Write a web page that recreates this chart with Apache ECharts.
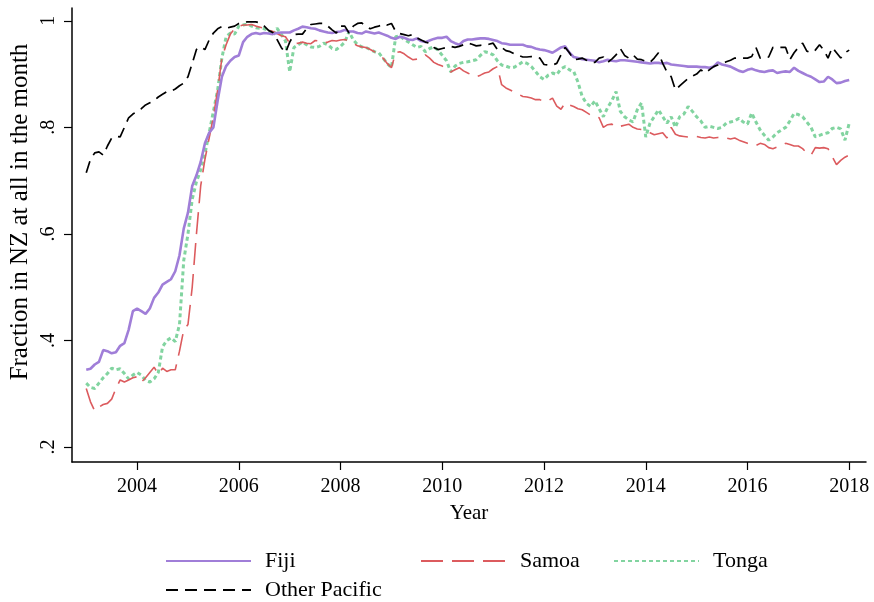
<!DOCTYPE html>
<html>
<head>
<meta charset="utf-8">
<script src="https://cdn.jsdelivr.net/npm/echarts@6/dist/echarts.min.js"></script>
<style>
  html, body { margin: 0; padding: 0; background: #fff; }
  #chart { width: 874px; height: 602px; }
</style>
</head>
<body>
<div id="chart"></div>
<script>
// monthly series, Jan 2003 .. Jan 2018
var startYear = 2003;
var xTicks = [2004, 2006, 2008, 2010, 2012, 2014, 2016, 2018];
var yTicks = [0.2, 0.4, 0.6, 0.8, 1];

var fiji = [
  .345, .347, .355, .36, .382, .38, .376, .378, .39, .395, .42, .455,
  .46, .455, .45, .46, .48, .49, .505, .51, .515, .53, .56, .61,
  .64, .69, .71, .735, .77, .79, .80, .85, .895, .915, .925, .932,
  .935, .96, .97, .975, .977, .975, .977, .976, .975, .977, .978, .978,
  .978, .982, .985, .989, .988, .986, .985, .982, .98, .978, .977, .979,
  .98, .983, .98, .98, .977, .976, .98, .978, .976, .978, .975, .972,
  .968, .966, .97, .968, .965, .964, .967, .962, .96, .963, .966, .968,
  .968, .97, .962, .958, .955, .962, .965, .965, .966, .967, .967, .966,
  .964, .962, .958, .957, .955, .955, .955, .955, .952, .951, .948, .946,
  .945, .943, .94, .945, .95, .952, .94, .932, .93, .928, .927, .926,
  .925, .922, .924, .927, .925, .924, .926, .926, .925, .924, .923, .922,
  .921, .92, .921, .921, .92, .921, .918, .917, .916, .915, .914, .914,
  .914, .913, .913, .912, .914, .922, .918, .916, .914, .91, .906, .904,
  .908, .91, .907, .905, .904, .906, .907, .902, .904, .905, .904, .912,
  .906, .902, .898, .895, .89, .885, .886, .895, .89, .883, .884, .887,
  .889
];

var samoa = [
  .31, .285, .268, .275, .28, .282, .29, .31, .326, .322, .326, .33,
  .332, .322, .33, .34, .35, .337, .348, .342, .345, .345, .38, .42,
  .43, .5, .6, .69, .74, .78, .82, .87, .93, .955, .975, .985,
  .99, .992, .992, .993, .99, .988, .986, .983, .98, .976, .972, .97,
  .958, .957, .958, .96, .958, .957, .963, .962, .958, .96, .963, .962,
  .964, .965, .962, .958, .953, .951, .95, .946, .942, .938, .93, .92,
  .912, .94, .942, .938, .932, .927, .928, .93, .936, .93, .922, .918,
  .915, .908, .904, .908, .912, .906, .902, .898, .895, .898, .902, .904,
  .91, .914, .88, .874, .87, .866, .862, .858, .857, .855, .852, .852,
  .848, .85, .855, .84, .834, .846, .842, .839, .835, .833, .828, .823,
  .822, .818, .80, .805, .806, .80, .802, .804, .806, .80, .797, .796,
  .793, .79, .786, .788, .79, .78, .80, .787, .784, .783, .782, .783,
  .783, .781, .78, .782, .78, .781, .782, .78, .778, .78, .776, .773,
  .77, .767, .766, .77, .768, .762, .76, .763, .766, .77, .768, .765,
  .765, .76, .752, .748, .762, .761, .762, .76, .745, .73, .738, .744,
  .748
];

var tonga = [
  .32, .312, .31, .32, .33, .338, .348, .345, .347, .338, .328, .335,
  .34, .335, .325, .322, .328, .34, .388, .40, .405, .398, .43, .55,
  .60, .665, .698, .72, .75, .79, .83, .87, .93, .97, .977, .975,
  .99, .992, .994, .99, .987, .986, .985, .982, .972, .986, .975, .962,
  .904, .95, .955, .96, .955, .951, .95, .952, .958, .955, .948, .946,
  .952, .96, .98, .964, .955, .951, .95, .946, .942, .94, .93, .92,
  .912, .97, .972, .965, .96, .955, .95, .952, .942, .948, .951, .945,
  .935, .925, .904, .915, .92, .922, .923, .925, .927, .935, .942, .94,
  .936, .925, .917, .915, .912, .913, .918, .923, .92, .914, .905, .895,
  .89, .898, .902, .899, .91, .914, .908, .905, .885, .858, .845, .839,
  .85, .835, .82, .837, .85, .867, .83, .82, .814, .81, .833, .846,
  .782, .808, .82, .833, .82, .808, .82, .80, .82, .825, .839, .83,
  .82, .812, .80, .802, .80, .798, .80, .808, .81, .812, .817, .81,
  .806, .827, .81, .795, .785, .776, .782, .79, .795, .80, .812, .826,
  .824, .82, .81, .80, .782, .785, .788, .79, .798, .80, .797, .776,
  .808
];

var otherPacific = [
  .715, .74, .752, .754, .748, .765, .78, .783, .782, .80, .818, .825,
  .83, .835, .842, .846, .85, .857, .862, .867, .868, .872, .878, .883,
  .895, .92, .946, .951, .946, .964, .977, .985, .989, .986, .988, .99,
  .995, .997, .998, .998, .998, .996, .99, .982, .978, .965, .95, .94,
  .96, .974, .975, .975, .985, .993, .994, .995, .995, .99, .983, .977,
  .99, .99, .977, .99, .995, .996, .99, .985, .988, .99, .994, .992,
  .995, .98, .976, .974, .972, .974, .968, .964, .96, .958, .95, .946,
  .948, .95, .952, .95, .952, .955, .958, .956, .953, .954, .955, .956,
  .958, .946, .95, .944, .942, .938, .935, .932, .932, .933, .932, .93,
  .918, .917, .917, .92, .936, .95, .94, .927, .928, .93, .926, .922,
  .922, .93, .932, .922, .928, .936, .948, .935, .93, .936, .928, .927,
  .924, .922, .93, .94, .92, .904, .895, .87, .878, .885, .892, .896,
  .90, .908, .902, .908, .914, .917, .92, .923, .926, .93, .93, .93,
  .93, .933, .95, .93, .93, .932, .95, .95, .95, .95, .927, .94,
  .95, .958, .943, .94, .945, .955, .945, .93, .95, .94, .93, .94,
  .945
];

function toPairs(vals) {
  return vals.map(function (v, i) { return [startYear + i / 12, v]; });
}

var serif = 'Liberation Serif';
var myChart = echarts.init(document.getElementById('chart'));
myChart.setOption({
  backgroundColor: '#fff',
  animation: false,
  grid: {left: 72, right: 8, top: 8, bottom: 140},
  xAxis: {
    type: 'value',
    min: 2002.72,
    max: 2018.33,
    name: 'Year',
    nameLocation: 'middle',
    nameGap: 41,
    nameTextStyle: {fontFamily: serif, fontSize: 21, color: '#000'},
    axisLine: {lineStyle: {color: '#000', width: 1.5}},
    axisTick: {length: 8, lineStyle: {color: '#000', width: 1.2}, customValues: xTicks},
    axisLabel: {
      fontFamily: serif, fontSize: 20, color: '#000', margin: 15,
      customValues: xTicks,
      formatter: function (v) { return String(v); }
    },
    splitLine: {show: false}
  },
  yAxis: {
    type: 'value',
    min: 0.172,
    max: 1.024,
    axisLine: {show: true, lineStyle: {color: '#000', width: 1.5}},
    axisTick: {show: true, length: 8, lineStyle: {color: '#000', width: 1.2}, customValues: yTicks},
    axisLabel: {
      fontFamily: serif, fontSize: 20, color: '#000', margin: 13, rotate: 90,
      customValues: yTicks,
      formatter: function (v) { return v >= 1 ? '1' : String(Math.round(v * 10) / 10).replace(/^0/, ''); }
    },
    splitLine: {show: false}
  },
  graphic: [{
    type: 'text',
    x: 20,
    y: 212,
    rotation: Math.PI / 2,
    style: {
      text: 'Fraction in NZ at all in the month',
      font: '25px "Liberation Serif"',
      fill: '#000',
      align: 'center',
      verticalAlign: 'middle'
    }
  }],
  legend: [
    {data: ['Fiji'], left: 165, top: 550},
    {data: ['Samoa'], left: 420, top: 550},
    {data: ['Tonga'], left: 613, top: 550},
    {data: ['Other Pacific'], left: 165, top: 579}
  ].map(function (l) {
    l.itemWidth = 85;
    l.itemHeight = 22;
    l.padding = 0;
    l.itemStyle = {opacity: 0};
    l.textStyle = {fontFamily: serif, fontSize: 22, color: '#000', padding: [0, 0, 0, 9]};
    return l;
  }),
  series: [
    {
      name: 'Fiji', type: 'line', data: toPairs(fiji), symbol: 'none',
      lineStyle: {color: '#a07ed8', width: 2.6}, itemStyle: {color: '#a07ed8'}, z: 4
    },
    {
      name: 'Samoa', type: 'line', data: toPairs(samoa), symbol: 'none',
      lineStyle: {color: '#dc5b5e', width: 1.6, type: [22, 9]}, itemStyle: {color: '#dc5b5e'}, z: 3
    },
    {
      name: 'Tonga', type: 'line', data: toPairs(tonga), symbol: 'none',
      lineStyle: {color: '#82d4a0', width: 3, type: [4, 3]}, itemStyle: {color: '#82d4a0'}, z: 2
    },
    {
      name: 'Other Pacific', type: 'line', data: toPairs(otherPacific), symbol: 'none',
      lineStyle: {color: '#000', width: 1.7, type: [12, 7]}, itemStyle: {color: '#000'}, z: 5
    }
  ]
});
</script>
</body>
</html>
